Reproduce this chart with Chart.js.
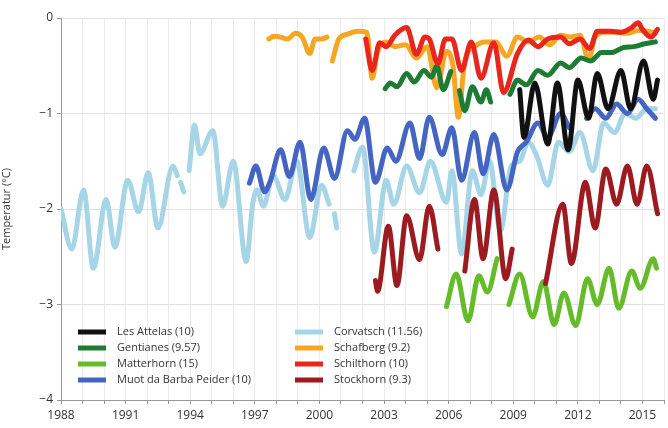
<!DOCTYPE html>
<html>
<head>
<meta charset="utf-8">
<script src="https://cdn.jsdelivr.net/npm/chart.js@4.4.1/dist/chart.umd.min.js"></script>
<style>
html,body{margin:0;padding:0;background:#fff;}
#wrap{position:relative;width:668px;height:428px;}
</style>
</head>
<body>
<div id="wrap"><canvas id="c" width="668" height="428"></canvas></div>
<script>
// ---- data: [year, temperature °C]; null = gap ----
const xTickYears = [1988, 1991, 1994, 1997, 2000, 2003, 2006, 2009, 2012, 2015];
const yTicks = [0, -1, -2, -3, -4];

const lesAttelas = [[2009.3,-0.75],[2009.5,-1.25],[2010.0,-0.68],[2010.6,-1.32],[2011.05,-0.68],[2011.55,-1.38],[2012.0,-0.65],[2012.5,-1.05],[2012.9,-0.58],[2013.4,-0.95],[2014.0,-0.55],[2014.45,-0.95],[2015.05,-0.45],[2015.5,-0.85],[2015.7,-0.65]];

const gentianes = [[2003.05,-0.74],[2003.3,-0.68],[2003.6,-0.72],[2004.05,-0.58],[2004.4,-0.67],[2004.85,-0.55],[2005.2,-0.62],[2005.45,-0.5],[2005.75,-0.75],[2006.1,-0.56],[2006.3,null],[2006.5,-0.76],[2006.75,-0.97],[2007.1,-0.72],[2007.5,-0.88],[2007.75,-0.75],[2007.95,-0.88],[2008.4,null],[2008.85,-0.8],[2009.2,-0.65],[2009.6,-0.7],[2010.15,-0.55],[2010.6,-0.6],[2011.2,-0.47],[2011.6,-0.52],[2012.15,-0.42],[2012.6,-0.45],[2013.1,-0.36],[2013.6,-0.36],[2014.1,-0.31],[2014.6,-0.3],[2015.1,-0.27],[2015.6,-0.25]];

const matterhorn = [[2005.9,-3.02],[2006.35,-2.68],[2006.9,-3.17],[2007.4,-2.7],[2007.8,-2.87],[2008.25,-2.52],[2008.5,null],[2008.8,-3.0],[2009.3,-2.68],[2009.9,-3.13],[2010.4,-2.76],[2010.9,-3.21],[2011.35,-2.88],[2011.9,-3.22],[2012.45,-2.73],[2012.9,-3.0],[2013.45,-2.62],[2013.9,-3.04],[2014.5,-2.65],[2014.9,-2.83],[2015.5,-2.52],[2015.65,-2.62]];

const muotDaBarbaPeider = [[1996.75,-1.73],[1997.05,-1.55],[1997.45,-1.82],[1997.7,-1.72],[1998.2,-1.38],[1998.6,-1.66],[1999.1,-1.3],[1999.6,-1.9],[2000.2,-1.36],[2000.7,-1.68],[2001.3,-1.18],[2001.65,-1.27],[2002.1,-1.05],[2002.6,-1.72],[2003.15,-1.36],[2003.55,-1.5],[2004.2,-1.1],[2004.65,-1.47],[2005.1,-1.04],[2005.7,-1.43],[2006.15,-1.15],[2006.6,-1.7],[2007.2,-1.2],[2007.6,-1.63],[2008.1,-1.22],[2008.7,-1.8],[2009.2,-1.4],[2009.6,-1.3],[2010.15,-1.1],[2010.6,-1.25],[2011.2,-1.0],[2011.6,-1.15],[2012.0,null],[2012.4,-1.05],[2012.8,-0.95],[2013.3,-1.05],[2013.8,-0.9],[2014.3,-1.0],[2014.8,-0.85],[2015.2,-0.95],[2015.6,-1.05]];

const corvatsch = [[1988.0,-2.0],[1988.5,-2.42],[1989.05,-1.8],[1989.5,-2.62],[1990.1,-1.9],[1990.5,-2.4],[1991.1,-1.7],[1991.6,-2.03],[1992.05,-1.62],[1992.5,-2.2],[1993.2,-1.55],[1993.4,-1.65],[1993.5,null],[1993.55,-1.72],[1993.7,-1.82],[1993.8,null],[1993.95,-1.6],[1994.2,-1.12],[1994.45,-1.42],[1995.05,-1.18],[1995.5,-1.97],[1996.0,-1.5],[1996.6,-2.55],[1996.9,-1.95],[1997.1,-1.8],[1997.4,-1.97],[1997.85,-1.65],[1998.4,-1.9],[1998.95,-1.5],[1999.55,-2.3],[2000.1,-1.75],[2000.45,-1.95],[2000.55,null],[2000.7,-2.05],[2000.8,-2.2],[2001.1,null],[2001.6,-1.6],[2002.0,-1.35],[2002.55,-2.45],[2003.1,-1.7],[2003.45,-1.95],[2004.05,-1.55],[2004.65,-1.83],[2005.15,-1.5],[2005.9,-1.93],[2006.15,-1.6],[2006.6,-2.47],[2007.1,-1.6],[2007.5,-1.85],[2007.9,-1.5],[2008.4,-2.23],[2008.9,-1.55],[2009.3,-1.5],[2009.7,-1.3],[2010.1,-1.45],[2010.6,-1.75],[2011.1,-1.3],[2011.6,-1.4],[2012.1,-1.2],[2012.7,-1.6],[2013.2,-1.1],[2013.7,-1.2],[2014.2,-1.0],[2014.7,-1.05],[2015.2,-0.95],[2015.6,-0.95]];

const schafberg = [[1997.65,-0.22],[1997.9,-0.19],[1998.2,-0.2],[1998.5,-0.22],[1998.9,-0.16],[1999.2,-0.2],[1999.55,-0.37],[1999.8,-0.22],[2000.1,-0.22],[2000.35,-0.2],[2000.45,null],[2000.6,-0.45],[2000.9,-0.22],[2001.3,-0.17],[2001.8,-0.14],[2002.2,-0.15],[2002.45,-0.63],[2002.7,-0.35],[2003.1,-0.25],[2003.5,-0.3],[2004.0,-0.28],[2004.5,-0.42],[2005.0,-0.3],[2005.45,-0.73],[2005.9,-0.35],[2006.2,-0.5],[2006.45,-1.04],[2006.75,-0.45],[2007.2,-0.3],[2007.7,-0.25],[2008.2,-0.25],[2008.7,-0.4],[2009.2,-0.2],[2009.7,-0.25],[2010.2,-0.2],[2010.7,-0.28],[2011.2,-0.18],[2011.7,-0.2],[2012.1,-0.18],[2012.5,-0.44],[2012.8,-0.2],[2013.3,-0.15],[2013.8,-0.15],[2014.3,-0.16],[2014.8,-0.13],[2015.3,-0.14],[2015.6,-0.16]];

const schilthorn = [[2002.15,-0.22],[2002.45,-0.55],[2002.8,-0.26],[2003.1,-0.3],[2003.5,-0.18],[2004.05,-0.1],[2004.5,-0.38],[2004.9,-0.2],[2005.1,-0.22],[2005.5,-0.48],[2005.85,-0.22],[2006.15,-0.22],[2006.6,-0.55],[2007.05,-0.25],[2007.5,-0.63],[2008.1,-0.26],[2008.55,-0.78],[2009.2,-0.37],[2009.7,-0.23],[2010.15,-0.3],[2010.6,-0.22],[2011.2,-0.2],[2011.6,-0.27],[2012.1,-0.22],[2012.55,-0.32],[2012.9,-0.14],[2013.5,-0.14],[2014.0,-0.15],[2014.5,-0.1],[2014.8,-0.05],[2015.0,-0.12],[2015.4,-0.2],[2015.7,-0.12]];

const stockhorn = [[2002.6,-2.75],[2002.7,-2.86],[2003.2,-2.18],[2003.6,-2.8],[2004.05,-2.07],[2004.65,-2.53],[2005.1,-1.97],[2005.5,-2.42],[2006.0,null],[2006.75,-2.65],[2007.2,-1.9],[2007.6,-2.52],[2008.1,-1.8],[2008.65,-2.73],[2008.95,-2.42],[2009.5,null],[2010.5,-2.78],[2011.3,-1.95],[2011.7,-2.57],[2012.35,-1.72],[2012.8,-2.2],[2013.3,-1.58],[2013.8,-1.95],[2014.3,-1.55],[2014.75,-1.95],[2015.2,-1.55],[2015.7,-2.05]];

const seriesNames = ["Les Attelas (10)","Gentianes (9.57)","Matterhorn (15)","Muot da Barba Peider (10)","Corvatsch (11.56)","Schafberg (9.2)","Schilthorn (10)","Stockhorn (9.3)"];
const seriesData = [lesAttelas, gentianes, matterhorn, muotDaBarbaPeider, corvatsch, schafberg, schilthorn, stockhorn];
const seriesColors = ["#111111","#1e7b34","#66bb2a","#4466c2","#a6d5e7","#f5a623","#e8261e","#9b1b20"];
const seriesOrder = [0, 3, 5, 4, 7, 6, 1, 2]; // lower drawn on top

const FONT = "'Open Sans', 'Noto Sans', sans-serif";

const legendPlugin = {
  id: 'customLegend',
  afterDraw(chart) {
    const ctx = chart.ctx;
    const a = chart.chartArea;
    ctx.save();
    ctx.font = "11px " + FONT;
    ctx.fillStyle = "#333";
    ctx.textBaseline = "middle";
    ctx.lineCap = "butt";
    seriesNames.forEach((name, i) => {
      const col = Math.floor(i / 4), row = i % 4;
      const x0 = a.left + 17 + col * 217;
      const y0 = a.bottom - 68 + row * 16;
      ctx.strokeStyle = seriesColors[i];
      ctx.lineWidth = 5;
      ctx.beginPath();
      ctx.moveTo(x0, y0);
      ctx.lineTo(x0 + 28, y0);
      ctx.stroke();
      ctx.fillText(name, x0 + 39, y0);
    });
    ctx.restore();
  }
};

new Chart(document.getElementById('c'), {
  type: 'line',
  data: {
    datasets: seriesData.map((d, i) => ({
      label: seriesNames[i],
      data: d.map(p => ({x: p[0], y: p[1]})),
      borderColor: seriesColors[i],
      backgroundColor: seriesColors[i],
      borderWidth: 5,
      pointRadius: 0,
      cubicInterpolationMode: 'monotone',
      spanGaps: false,
      order: seriesOrder[i],
      borderJoinStyle: 'round',
      borderCapStyle: 'round'
    }))
  },
  options: {
    responsive: false,
    animation: false,
    devicePixelRatio: 1,
    layout: {padding: {top: 18, right: 0, bottom: 0, left: 0}},
    plugins: {legend: {display: false}, tooltip: {enabled: false}},
    scales: {
      x: {
        type: 'linear',
        min: 1988, max: 2016,
        ticks: {
          stepSize: 1, autoSkip: false, maxRotation: 0, padding: 4,
          color: '#333', font: {family: FONT, size: 12},
          callback: v => xTickYears.includes(v) ? String(v) : ''
        },
        grid: {color: '#ececec', lineWidth: 1, tickLength: 4, tickColor: '#999'},
        border: {color: '#999'},
        afterFit: s => { s.height = 28; }
      },
      y: {
        min: -4, max: 0,
        ticks: {
          stepSize: 1, color: '#333', font: {family: FONT, size: 12}, padding: 4,
          callback: v => yTicks.includes(v) ? (v === 0 ? '0' : '\u2212' + Math.abs(v)) : ''
        },
        grid: {color: '#e2e2e2', lineWidth: 1, tickLength: 4, tickColor: '#999'},
        border: {color: '#999'},
        title: {display: true, text: 'Temperatur (°C)', color: '#333', font: {family: FONT, size: 11}, padding: 0},
        afterFit: s => { s.width = 61; }
      }
    }
  },
  plugins: [legendPlugin]
});
</script>
</body>
</html>
